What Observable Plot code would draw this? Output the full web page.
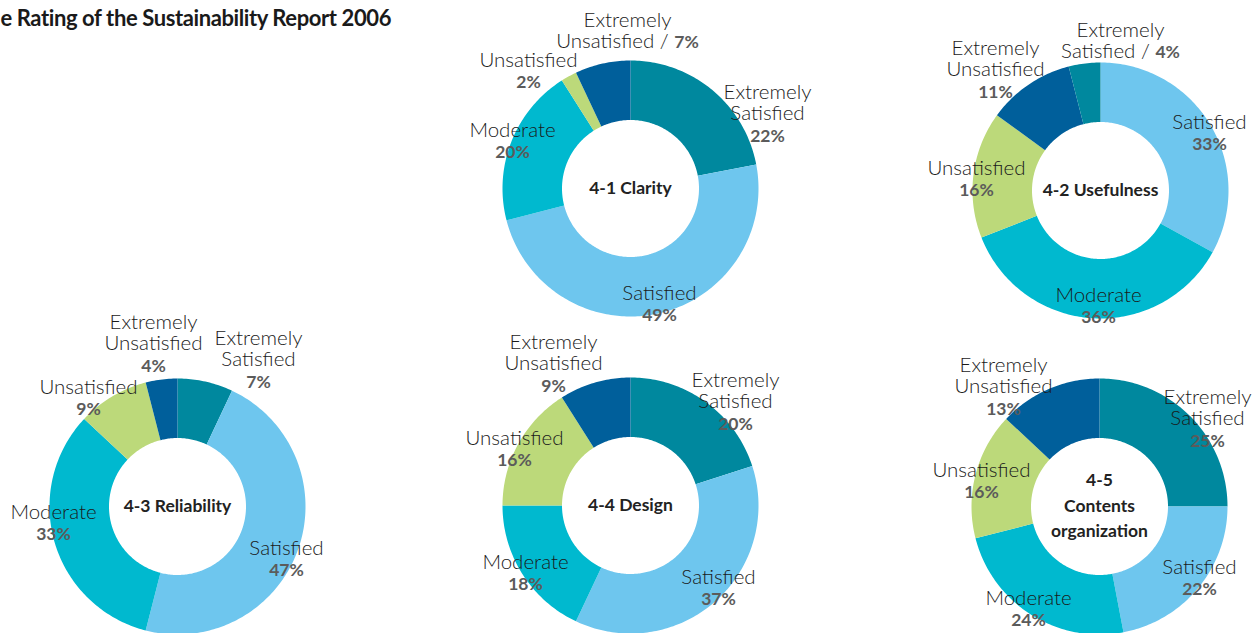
<!DOCTYPE html>
<html>
<head>
<meta charset="utf-8">
<script src="https://cdn.jsdelivr.net/npm/d3@7"></script>
<script src="https://cdn.jsdelivr.net/npm/@observablehq/plot@0.6"></script>
<style>
  html, body { margin: 0; padding: 0; background: #fff; overflow: hidden; }
  #chart svg { display: block; }
</style>
</head>
<body>
<div id="chart"></div>
<script>
// ---------- DATA ----------
const title = "e Rating of the Sustainability Report 2006";
const categories = ["Extremely Satisfied", "Satisfied", "Moderate", "Unsatisfied", "Extremely Unsatisfied"];
const chartNames = ["4-1 Clarity", "4-2 Usefulness", "4-3 Reliability", "4-4 Design", "4-5\nContents\norganization"];
// values in percent, clockwise from 12 o'clock in the order each chart uses
const clarityValues     = [22, 49, 20, 2, 7];   // ES, S, M, U, EU
const usefulnessValues  = [33, 36, 16, 11, 4];  // S, M, U, EU, ES
const reliabilityValues = [7, 47, 33, 9, 4];    // ES, S, M, U, EU
const designValues      = [20, 37, 18, 16, 9];  // ES, S, M, U, EU
const contentsValues    = [25, 22, 24, 16, 13]; // ES, S, M, U, EU
const orderStd = ["Extremely Satisfied", "Satisfied", "Moderate", "Unsatisfied", "Extremely Unsatisfied"];
const orderUse = ["Satisfied", "Moderate", "Unsatisfied", "Extremely Unsatisfied", "Extremely Satisfied"];

// ---------- LAYOUT / STYLE ----------
const colors = ["#00889e", "#6ec6ee", "#00b9cf", "#bcd97a", "#005f9b"];
const W = 1256, H = 633;
const rOuter = 128, rInner = 68.5;
const centers = [[630, 188], [1100, 190], [177, 506], [630, 505], [1099, 506]];
// label offsets (first line centre relative to donut centre) and whether % is inline
const labelLayout = [
  {"Extremely Satisfied": [137, -96], "Satisfied": [29, 105], "Moderate": [-118, -58], "Unsatisfied": [-102, -128], "Extremely Unsatisfied": [-3, -168, true]},
  {"Satisfied": [109, -68], "Moderate": [-2, 105], "Unsatisfied": [-124, -22], "Extremely Unsatisfied": [-105, -142], "Extremely Satisfied": [20, -160, true]},
  {"Extremely Satisfied": [81, -168], "Satisfied": [109, 42], "Moderate": [-124, 6], "Unsatisfied": [-89, -119], "Extremely Unsatisfied": [-24, -184]},
  {"Extremely Satisfied": [105, -125], "Satisfied": [88, 72], "Moderate": [-105, 57], "Unsatisfied": [-116, -67], "Extremely Unsatisfied": [-77, -163]},
  {"Extremely Satisfied": [108, -109], "Satisfied": [100, 61], "Moderate": [-71, 92], "Unsatisfied": [-118, -36], "Extremely Unsatisfied": [-96, -141]}
];
const lineH = 21.5;
const nameFont = 20.5, pctFont = 17.5, centerFont = 17.5;

// ---------- BUILD ----------
const charts = [
  {values: clarityValues, order: orderStd},
  {values: usefulnessValues, order: orderUse},
  {values: reliabilityValues, order: orderStd},
  {values: designValues, order: orderStd},
  {values: contentsValues, order: orderStd}
];

const polys = [];   // polygon vertices of each sector
const labels = [];
charts.forEach((c, ci) => {
  const total = d3.sum(c.values);
  const [cx, cy] = centers[ci];
  let acc = 0;
  c.values.forEach((v, k) => {
    const cat = c.order[k];
    const a0 = acc / total * 2 * Math.PI;
    acc += v;
    const a1 = acc / total * 2 * Math.PI;
    const n = Math.max(2, Math.ceil((a1 - a0) / (Math.PI / 180)));
    const key = ci + "-" + cat;
    const pts = [];
    for (let i = 0; i <= n; i++) {
      const a = a0 + (a1 - a0) * i / n;
      pts.push({key, cat, x: cx + rOuter * Math.sin(a), y: cy - rOuter * Math.cos(a)});
    }
    for (let i = n; i >= 0; i--) {
      const a = a0 + (a1 - a0) * i / n;
      pts.push({key, cat, x: cx + rInner * Math.sin(a), y: cy - rInner * Math.cos(a)});
    }
    polys.push(...pts);
    const lay = labelLayout[ci][cat];
    const words = cat.split(" ");
    let lines;
    if (lay[2]) {
      lines = words.map((w, i) => i === words.length - 1 ? [[w + " / ", "n"], [v + "%", "p"]] : [[w, "n"]]);
    } else {
      lines = words.map(w => [[w, "n"]]).concat([[[v + "%", "p"]]]);
    }
    labels.push({x: cx + lay[0], y: cy + lay[1], lines, cat});
  });
});

const centerLabels = chartNames.map((name, ci) => ({x: centers[ci][0], y: centers[ci][1], text: name}));

function richText(index, scales, values, dimensions, context, next) {
  const g = next(index, scales, values, dimensions, context);
  const texts = g.querySelectorAll("text");
  texts.forEach((el, i) => {
    const d = labels[index[i]];
    while (el.firstChild) el.removeChild(el.firstChild);
    el.removeAttribute("dy");
    d.lines.forEach((segs, j) => {
      const line = document.createElementNS("http://www.w3.org/2000/svg", "tspan");
      line.setAttribute("x", 0);
      line.setAttribute("y", j * lineH + 6);
      segs.forEach(([t, kind]) => {
        const s = document.createElementNS("http://www.w3.org/2000/svg", "tspan");
        s.textContent = t;
        if (kind === "p") {
          s.setAttribute("fill", "#5b5b5b");
          s.setAttribute("font-weight", "700");
          s.setAttribute("font-size", pctFont);
        } else {
          s.setAttribute("fill", "#1a1a1a");
          s.setAttribute("font-weight", "300");
          s.setAttribute("font-size", nameFont);
        }
        line.appendChild(s);
      });
      el.appendChild(line);
    });
  });
  return g;
}

function tightTitle(index, scales, values, dimensions, context, next) {
  const g = next(index, scales, values, dimensions, context);
  g.setAttribute("letter-spacing", "-0.4");
  return g;
}

const plot = Plot.plot({
  width: W,
  height: H,
  margin: 0,
  style: {fontFamily: "Lato, 'Noto Sans', sans-serif", background: "#fff", overflow: "visible"},
  x: {domain: [0, W], range: [0, W], axis: null},
  y: {domain: [0, H], range: [0, H], axis: null},
  color: {domain: categories, range: colors},
  marks: [
    Plot.line(polys, {x: "x", y: "y", z: "key", fill: "cat", stroke: "none", curve: "linear-closed"}),
    Plot.text(labels, {x: "x", y: "y", text: d => d.cat, textAnchor: "middle", render: richText}),
    Plot.text(centerLabels, {x: "x", y: "y", text: "text", fontWeight: 700, fontSize: centerFont, fill: "#222", lineHeight: 1.45, textAnchor: "middle", dy: -3}),
    Plot.text([title], {x: () => 0, y: () => 18, text: d => d, textAnchor: "start", fontWeight: 700, fontSize: 22, fill: "#1a1a1a", render: tightTitle})
  ]
});
document.getElementById("chart").appendChild(plot);
</script>
</body>
</html>
